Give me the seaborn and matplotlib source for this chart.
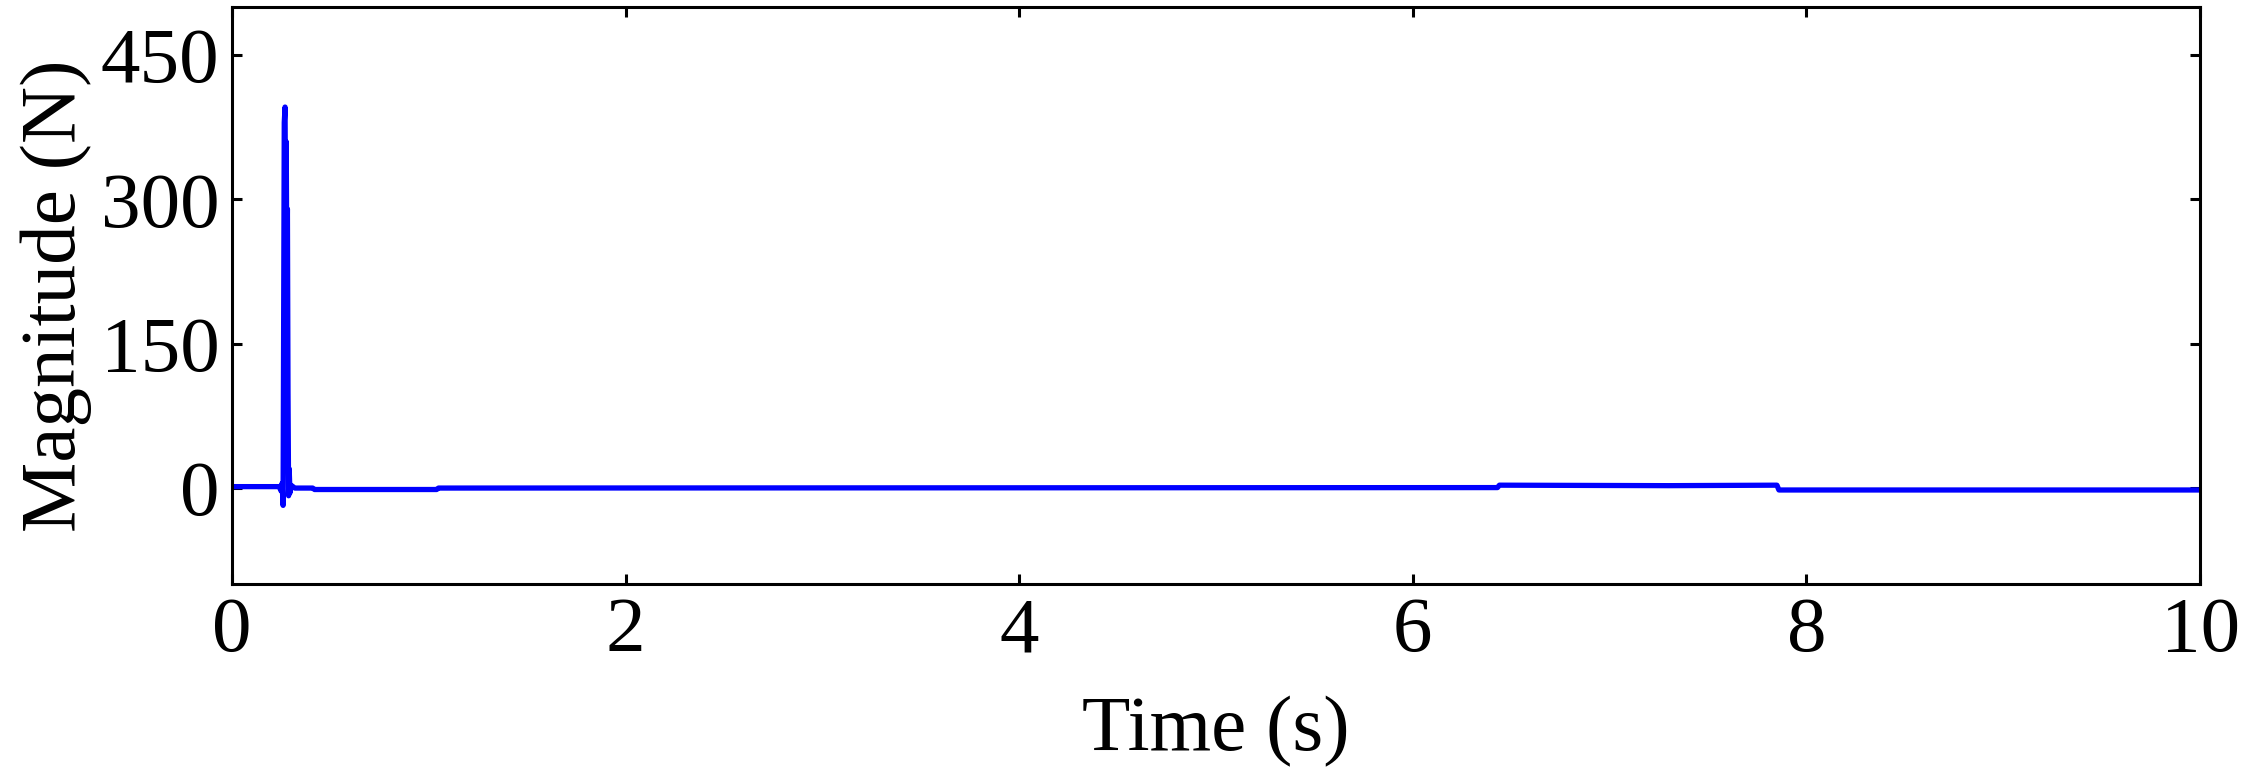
import numpy as np
import pandas as pd
import matplotlib
matplotlib.use("Agg")
import matplotlib.pyplot as plt
import seaborn as sns

# Data (time in s, force magnitude in N)
time_s = [0.0, 0.24, 0.25, 0.255, 0.26, 0.263, 0.266, 0.27, 0.273, 0.276,
          0.279, 0.282, 0.285, 0.288, 0.291, 0.295, 0.30, 0.32, 0.41, 0.42,
          1.04, 1.05, 6.43, 6.44, 7.30, 7.85, 7.86, 10.0]
magnitude_n = [1.5, 1.5, -3, 5, -18, 180, 380, 396, 260, 360,
               220, 290, 100, -8, 20, -5, 3, 0, 0, -1.5,
               -1.5, 0, 0.5, 3, 2.5, 3, -2, -2]

x_ticks = [0, 2, 4, 6, 8, 10]
y_ticks = [0, 150, 300, 450]

df = pd.DataFrame({"time": time_s, "magnitude": magnitude_n})

# Style
sns.set_style("ticks")
plt.rcParams["font.family"] = ["Liberation Serif", "DejaVu Serif"]
plt.rcParams["text.color"] = "black"
plt.rcParams["axes.labelcolor"] = "black"

# Plot
fig = plt.figure(figsize=(22.45, 7.78), dpi=100)
ax = fig.add_axes([0.1033, 0.249, 0.8767, 0.742])
sns.lineplot(data=df, x="time", y="magnitude", ax=ax, color="#0000ff",
             linewidth=3.8, estimator=None, sort=False)

ax.set_xlim(0, 10)
ax.set_ylim(-100, 500)
ax.set_xticks(x_ticks)
ax.set_yticks(y_ticks)
ax.tick_params(direction="in", top=True, right=True, length=7, width=2.2,
               labelsize=57, pad=9, colors="black", labelcolor="black")
for s in ax.spines.values():
    s.set_linewidth(2.2)
    s.set_color("black")

ax.set_xlabel("Time (s)", fontsize=57, labelpad=20, color="black")
ax.set_ylabel("Magnitude (N)", fontsize=57, labelpad=6, color="black")

fig.savefig("out.png", dpi=100, facecolor="white")
plt.close()
